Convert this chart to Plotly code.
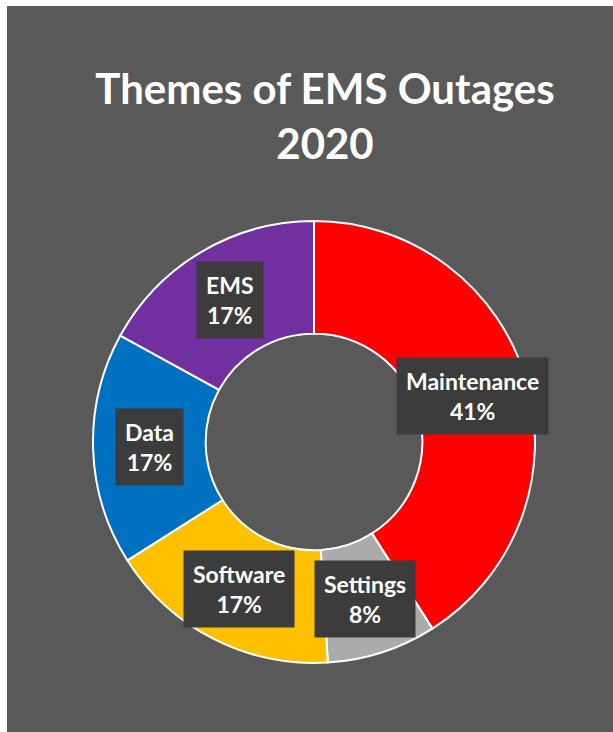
import math
import plotly.graph_objects as go

# ---- data ----
categories = ["Maintenance", "Settings", "Software", "Data", "EMS"]
shares = [41, 8, 17, 17, 17]
title_lines = ["Themes of EMS Outages", "2020"]

# ---- styles ----
slice_colors = ["#FF0000", "#ABABAB", "#FFC000", "#0070C0", "#7030A0"]
W, H = 613, 732
bg = "#595959"
cx_px, cy_px, R_px = 314, 442, 221
hole = 0.49
font_family = "Lato, 'Open Sans', sans-serif"

fig = go.Figure()
fig.add_trace(go.Pie(
    labels=categories,
    values=shares,
    sort=False,
    direction="clockwise",
    rotation=0,
    hole=hole,
    textinfo="none",
    marker=dict(colors=slice_colors, line=dict(color="white", width=2)),
    domain=dict(
        x=[(cx_px - R_px) / W, (cx_px + R_px) / W],
        y=[(H - cy_px - R_px) / H, (H - cy_px + R_px) / H],
    ),
    showlegend=False,
))

# data labels at the middle of the ring, along each slice's mid angle
total = sum(shares)
r_mid = R_px * (1 + hole) / 2
cum = 0
annotations = []
for cat, v in zip(categories, shares):
    mid = (cum + v / 2) / total * 2 * math.pi
    cum += v
    px = cx_px + r_mid * math.sin(mid)
    py = cy_px - r_mid * math.cos(mid)
    annotations.append(dict(
        x=px / W, y=1 - py / H, xref="paper", yref="paper",
        text=f"<b>{cat}<br>{round(v / total * 100)}%</b>",
        showarrow=False,
        font=dict(family=font_family, size=23, color="white"),
        bgcolor="#3C3C3C",
        borderpad=9,
        align="center",
        xanchor="center", yanchor="middle",
    ))

r_in = R_px * hole - 1.5
fig.update_layout(
    width=W, height=H,
    margin=dict(l=0, r=0, t=0, b=0),
    paper_bgcolor=bg,
    plot_bgcolor=bg,
    title=dict(
        text="<b>" + "<br>".join(title_lines) + "</b>",
        x=325 / W, xanchor="center",
        y=1 - 104 / H, yanchor="top",
        yref="container",
        font=dict(family=font_family, size=42, color="white"),
    ),
    annotations=annotations,
    shapes=[
        dict(type="rect", xref="paper", yref="paper",
             x0=0, x1=7 / W, y0=0, y1=1,
             fillcolor="white", line=dict(width=0), layer="below"),
        dict(type="rect", xref="paper", yref="paper",
             x0=0, x1=1, y0=1 - 6 / H, y1=1,
             fillcolor="white", line=dict(width=0), layer="below"),
        # fill the donut hole with the chart background
        dict(type="circle", xref="paper", yref="paper",
             x0=(cx_px - r_in) / W, x1=(cx_px + r_in) / W,
             y0=1 - (cy_px + r_in) / H, y1=1 - (cy_px - r_in) / H,
             fillcolor=bg, line=dict(width=0), layer="above"),
    ],
)

fig.write_html("out.html")
